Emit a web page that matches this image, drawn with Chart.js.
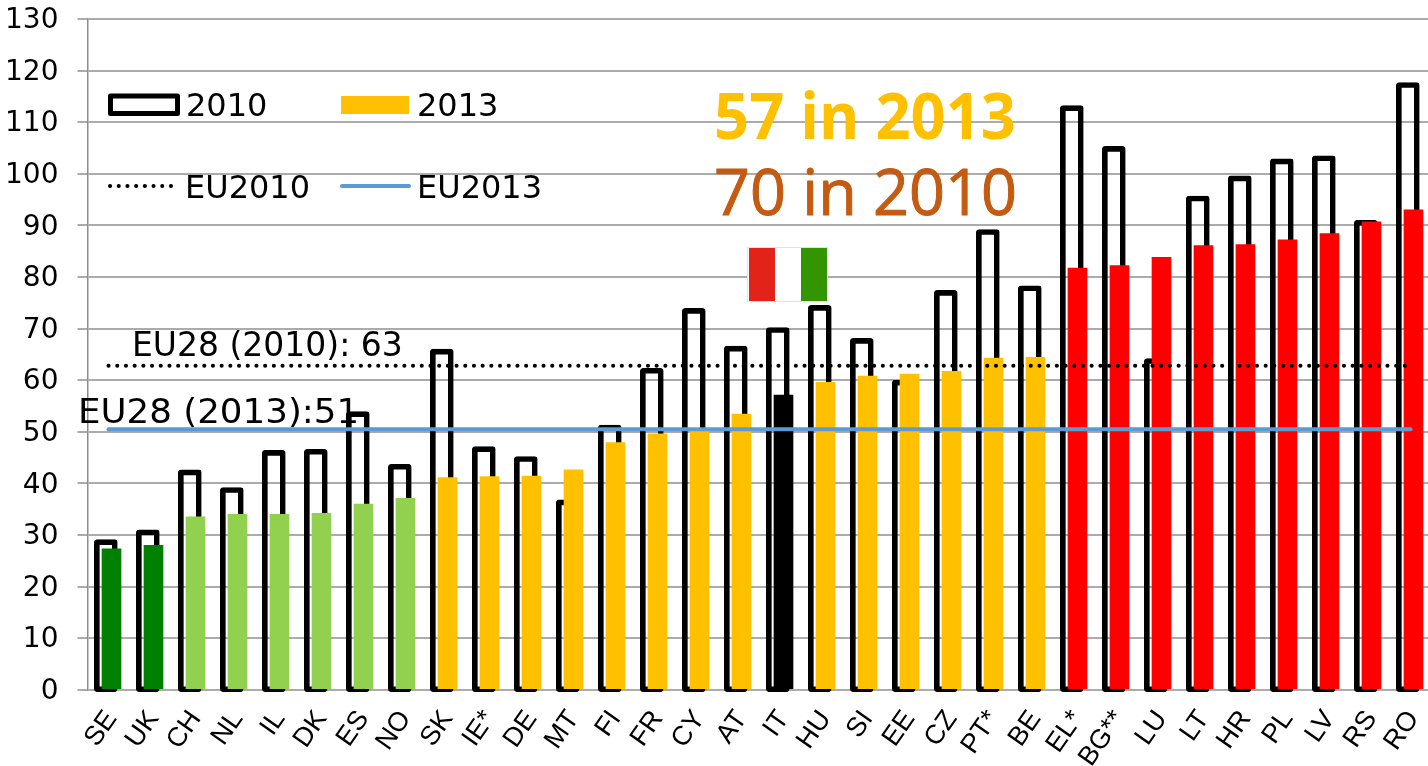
<!DOCTYPE html>
<html><head><meta charset="utf-8">
<style>html,body{margin:0;padding:0;background:#fff;width:1428px;height:766px;overflow:hidden}canvas{display:block}</style>
<script src="https://cdn.jsdelivr.net/npm/chart.js@4"></script>
</head><body><canvas id="c" width="1432" height="766"></canvas>
<script>
const categories=['SE','UK','CH','NL','IL','DK','ES','NO','SK','IE*','DE','MT','FI','FR','CY','AT','IT','HU','SI','EE','CZ','PT*','BE','EL*','BG**','LU','LT','HR','PL','LV','RS','RO'];
const values2010=[29.1,31,42.6,39.2,46.4,46.6,53.9,43.7,66,47.1,45.2,36.8,51.3,62.3,73.9,66.6,70.2,74.5,68.1,60,77.4,89.2,78.3,113.2,105.3,64.2,95.7,99.6,102.9,103.5,91,117.7];
const values2013=[27.3,28,33.5,34,34,34.2,36,37.1,41.1,41.3,41.4,42.6,47.9,49.6,50.3,53.4,57.1,59.6,60.8,61.2,61.7,64.3,64.4,81.7,82.2,83.8,86.1,86.3,87.2,88.4,90.7,93];
const colors2013=['#008000','#008000','#92D050','#92D050','#92D050','#92D050','#92D050','#92D050','#FFC000','#FFC000','#FFC000','#FFC000','#FFC000','#FFC000','#FFC000','#FFC000','#000000','#FFC000','#FFC000','#FFC000','#FFC000','#FFC000','#FFC000','#FF0000','#FF0000','#FF0000','#FF0000','#FF0000','#FF0000','#FF0000','#FF0000','#FF0000'];
const eu2010=categories.map(()=>62.8);
const eu2013=categories.map(()=>50.5);
const sans='"DejaVu Sans"';
const overlay={id:'overlay',
 beforeDraw(chart){
  chart.scales.y.getLabelItems(chart.chartArea).forEach(i=>{i.options.translation[1]+=2});
  chart.scales.x.getLabelItems(chart.chartArea).forEach(i=>{i.options.translation[0]+=3});
 },
 afterDatasetsDraw(chart){
  const g=chart.ctx;g.save();
  g.textBaseline='alphabetic';g.textAlign='left';
  g.fillStyle='#fff';g.fillRect(747,247,81,55);
  g.strokeStyle='#e2e2e2';g.lineWidth=1;g.strokeRect(747.5,247.5,80,54);
  g.fillStyle='#E2231A';g.fillRect(749,248,26,53);
  g.fillStyle='#339500';g.fillRect(801,248,26,53);
  g.fillStyle='#000';g.font='33px '+sans;
  g.fillText('EU28 (2010): 63',132,356);
  g.save();g.translate(78,423);g.scale(1.08,1);g.fillText('EU28 (2013):51',0,0);g.restore();
  g.font='bold 65px "Open Sans"';g.fillStyle='#FFC000';g.fillText('57 in 2013',714,139,302);
  g.font='64px "Open Sans"';g.fillStyle='#C55A11';g.strokeStyle='#C55A11';g.lineWidth=1;g.lineJoin='round';
  g.fillText('70 in 2010',714,215,303);g.strokeText('70 in 2010',714,215,303);
  g.fillStyle='#000';g.font='32px '+sans;
  g.fillText('2010',186,116);g.fillText('2013',417,116);
  g.fillText('EU2010',185,198);g.fillText('EU2013',417,198);
  g.strokeStyle='#000';g.lineWidth=5;g.lineJoin='round';g.strokeRect(110.5,96,67,17.5);
  g.fillStyle='#FFC000';g.fillRect(341,96,68,18);
  g.lineCap='round';
  g.setLineDash([0.1,8.6]);g.lineWidth=4;g.strokeStyle='#000';
  g.beginPath();g.moveTo(110,186);g.lineTo(172,186);g.stroke();
  g.setLineDash([]);g.strokeStyle='#5B9BD5';
  g.beginPath();g.moveTo(342,186);g.lineTo(409,186);g.stroke();
  g.restore();
 }};
const shift={id:'shift',afterLayout(chart){
  for(const [id,dx] of [['x2010',-2.7],['x2013',3]]){
    const s=chart.scales[id];s.left+=dx;s.right+=dx;s.configure();
  }
}};
new Chart(document.getElementById('c'),{
  data:{labels:categories,datasets:[
    {type:'line',label:'EU2010',data:eu2010,xAxisID:'x',borderColor:'#000',borderWidth:4,borderDash:[0.1,8.6],borderCapStyle:'round',pointRadius:0,order:1,clip:false},
    {type:'line',label:'EU2013',data:eu2013,xAxisID:'x',borderColor:'#5B9BD5',borderWidth:4,borderCapStyle:'round',pointRadius:0,order:0,clip:false},
    {type:'bar',label:'2013',data:values2013,xAxisID:'x2013',backgroundColor:colors2013,barThickness:19,grouped:false,order:2},
    {type:'bar',label:'2010',data:values2010,xAxisID:'x2010',backgroundColor:'rgba(255,255,255,0)',borderColor:'#000',borderWidth:5,borderRadius:3,borderSkipped:false,barThickness:23,grouped:false,base:-0.4,clip:false,order:3}
  ]},
  options:{responsive:false,animation:false,
    layout:{padding:{top:19,left:0,right:0.5,bottom:0}},
    plugins:{legend:{display:false},tooltip:{enabled:false}},
    scales:{
      x:{type:'category',offset:true,grid:{display:false},border:{display:false},
        afterFit(s){s.height=76.3;s.paddingLeft=0;s.paddingRight=0},
        ticks:{autoSkip:false,minRotation:55,maxRotation:55,padding:7,color:'#000',font:{family:'"Liberation Sans"',size:27}}},
      x2010:{type:'category',offset:true,display:false},
      x2013:{type:'category',offset:true,display:false},
      y:{min:0,max:130,afterFit(s){s.width=87.5;s.paddingTop=0;s.paddingBottom=0},
        grid:{color:'#ABABAB',lineWidth:2,tickLength:10},
        border:{color:'#8c8c8c',width:1.5},
        ticks:{stepSize:10,padding:19,color:'#000',font:{family:sans,size:28}}}
    }
  },
  plugins:[shift,overlay]
});
</script></body></html>
